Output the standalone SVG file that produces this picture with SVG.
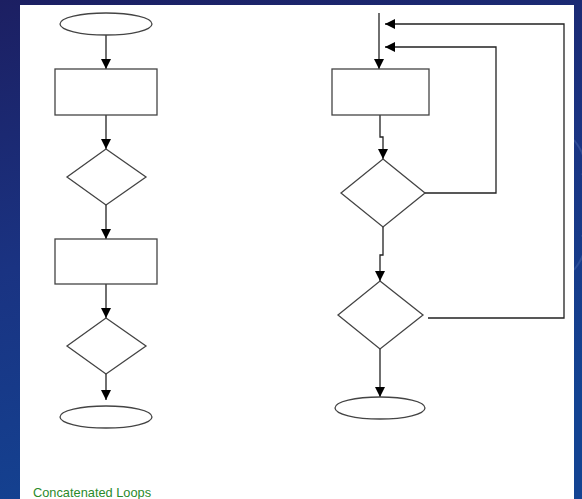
<svg xmlns="http://www.w3.org/2000/svg" width="582" height="499" viewBox="0 0 582 499">
  <defs>
    <linearGradient id="bg" x1="0" y1="0" x2="0.3" y2="1">
      <stop offset="0" stop-color="#1c1f62"/>
      <stop offset="0.5" stop-color="#1a3382"/>
      <stop offset="1" stop-color="#134392"/>
    </linearGradient>
    <marker id="arrow" viewBox="0 0 10 10" refX="10" refY="5" markerWidth="10" markerHeight="10" markerUnits="userSpaceOnUse" orient="auto">
      <path d="M0,0 L10,5 L0,10 z" fill="#000"/>
    </marker>
    <style>
      .shape { fill: #fff; stroke: #444; stroke-width: 1.3; }
      .conn { fill: none; stroke: #222; stroke-width: 1.3; }
      .arr { marker-end: url(#arrow); }
      .caption { font-family: "Liberation Sans", Arial, sans-serif; font-size: 12.8px; fill: #2a8a2a; }
    </style>
  </defs>

  <!-- backdrop and sheet -->
  <rect x="0" y="0" width="582" height="499" fill="url(#bg)"/>
  <g fill="none" stroke="#5a78b8" stroke-opacity="0.35" stroke-width="2">
    <path d="M574,140 Q590,160 582,175"/>
    <path d="M574,270 Q590,250 582,235"/>
  </g>
  <rect x="20" y="5" width="554" height="494" fill="#fff"/>

  <!-- connectors -->
  <g id="connectors">
    <!-- left flow -->
    <line class="conn arr" x1="106" y1="35" x2="106" y2="69"/>
    <line class="conn arr" x1="106" y1="115" x2="106" y2="149"/>
    <line class="conn arr" x1="106" y1="205" x2="106" y2="239"/>
    <line class="conn arr" x1="106" y1="284" x2="106" y2="318"/>
    <line class="conn arr" x1="106" y1="366" x2="106" y2="400"/>
    <!-- right flow -->
    <line class="conn arr" x1="379" y1="13" x2="379" y2="69"/>
    <polyline class="conn arr" points="380,115 380,137 383,137 383,159"/>
    <polyline class="conn arr" points="383,227 383,255 380,255 380,281"/>
    <line class="conn arr" x1="380" y1="349" x2="380" y2="397"/>
    <!-- loop returns -->
    <polyline class="conn arr" points="425,193 496,193 496,47 385,47"/>
    <polyline class="conn arr" points="428,318 564,318 564,24 385,24"/>
  </g>

  <!-- left column nodes -->
  <g id="start-left"><ellipse class="shape" cx="106" cy="24" rx="46" ry="11"/></g>
  <g id="process-left-1"><rect class="shape" x="55" y="69" width="102" height="46"/></g>
  <g id="decision-left-1"><polygon class="shape" points="106,149 146,177 106,205 67,177"/></g>
  <g id="process-left-2"><rect class="shape" x="55" y="239" width="102" height="45"/></g>
  <g id="decision-left-2"><polygon class="shape" points="106,318 146,346 106,374 67,346"/></g>
  <g id="end-left"><ellipse class="shape" cx="106" cy="417" rx="46" ry="11"/></g>

  <!-- right column nodes -->
  <g id="process-right"><rect class="shape" x="332" y="69" width="97" height="46"/></g>
  <g id="decision-right-1"><polygon class="shape" points="383,159 425,193 383,227 341,193"/></g>
  <g id="decision-right-2"><polygon class="shape" points="380,281 423,315 380,349 338,315"/></g>
  <g id="end-right"><ellipse class="shape" cx="380" cy="408" rx="45" ry="11"/></g>

  <text class="caption" x="33" y="497">Concatenated Loops</text>
</svg>
